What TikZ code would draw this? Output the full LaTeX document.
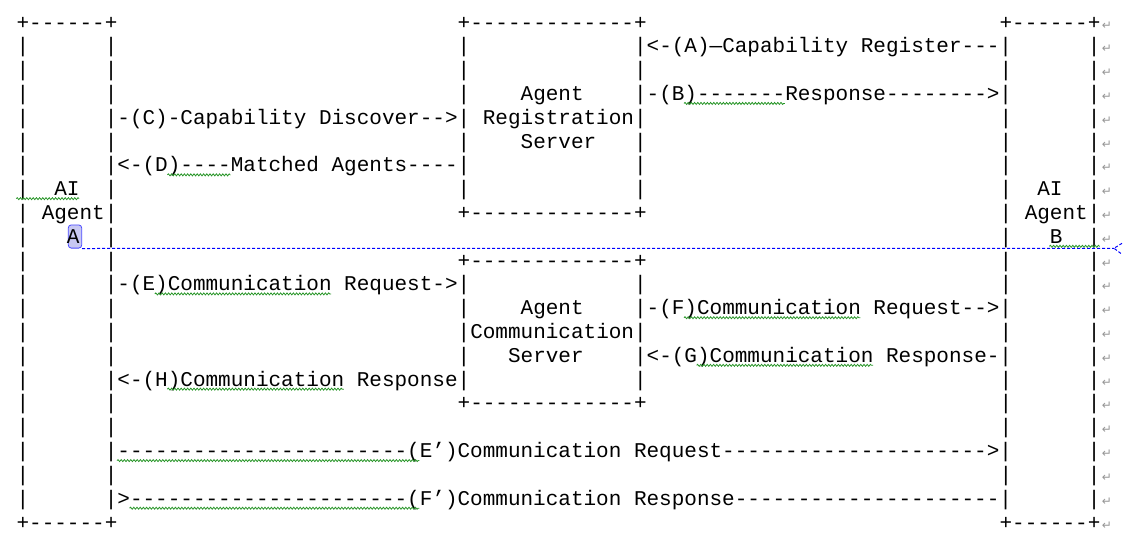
\documentclass[tikz,border=0pt]{standalone}
\usepackage{fontspec}
\setmonofont{Liberation Mono}
\newfontfamily\pmfont{DejaVu Sans}
\usetikzlibrary{decorations.pathmorphing}
\definecolor{spellgreen}{RGB}{40,150,40}
\definecolor{markgray}{RGB}{150,150,150}
\definecolor{selfill}{RGB}{200,200,242}
\ExplSyntaxOn
\cs_new_eq:NN \rep \prg_replicate:nn
\ExplSyntaxOff
\newcommand{\gap}[1]{\hspace*{#1\fontcharwd\font`x}}
\newcommand{\pmark}{\hspace*{0.8pt}{\pmfont\fontsize{6}{6}\selectfont\color{markgray}↵}}
\newcommand{\ry}[1]{29+23.81*#1}
\newcommand{\squig}[3]{\draw[squig] ({16.2+12.6*#2},{\ry{#1}+3}) -- ({16.2+12.6*(#3+1)},{\ry{#1}+3});}

\begin{document}
\begin{tikzpicture}[x=0.5pt,y=-0.5pt,
	asc/.style={anchor=base west,inner sep=0pt,font=\ttfamily\fontsize{10.5}{12}\selectfont},
	squig/.style={spellgreen,line width=0.4pt,decorate,decoration={snake,segment length=1.6pt,amplitude=0.5pt}},
	brkline/.style={blue,line width=0.5pt,dash pattern=on 1.5pt off 1pt},
	selbox/.style={fill=selfill,draw=blue!70,line width=0.4pt,rounded corners=1.5pt,inner sep=0pt,minimum width=6.7pt,minimum height=11.6pt}]
		\fill[white] (0,0) rectangle (1125,546);
		\useasboundingbox (0,0) rectangle (1125,546);

		% selection on the A and the break line under row 9
		\node[selbox] (selA) at (75,236.5) {};
		\coordinate (brk) at (1114,248.3);
		\draw[brkline] (selA.south east) -- (brk);
		\draw[brkline] ([shift={(8,-5)}]brk) -- (brk) -- ([shift={(8,6)}]brk);

		\node[asc] (row0) at (16.2,{\ry{0}}) {+\rep{6}{-}+\gap{27}+\rep{13}{-}+\gap{28}+\rep{6}{-}+\pmark};
		\node[asc] (row1) at (16.2,{\ry{1}}) {|\gap{6}|\gap{27}|\gap{13}|<-(A)—Capability Register---|\gap{6}|\pmark};
		\node[asc] (row2) at (16.2,{\ry{2}}) {|\gap{6}|\gap{27}|\gap{13}|\gap{28}|\gap{6}|\pmark};
		\node[asc] (row3) at (16.2,{\ry{3}}) {|\gap{6}|\gap{27}|\gap{4}Agent\gap{4}|-(B)\rep{7}{-}Response\rep{8}{-}>|\gap{6}|\pmark};
		\node[asc] (row4) at (16.2,{\ry{4}}) {|\gap{6}|-(C)-Capability Discover-->|\gap{1}Registration|\gap{28}|\gap{6}|\pmark};
		\node[asc] (row5) at (16.2,{\ry{5}}) {|\gap{6}|\gap{27}|\gap{4}Server\gap{3}|\gap{28}|\gap{6}|\pmark};
		\node[asc] (row6) at (16.2,{\ry{6}}) {|\gap{6}|<-(D)----Matched Agents----|\gap{13}|\gap{28}|\gap{6}|\pmark};
		\node[asc] (row7) at (16.2,{\ry{7}}) {|\gap{2}AI\gap{2}|\gap{27}|\gap{13}|\gap{28}|\gap{2}AI\gap{2}|\pmark};
		\node[asc] (row8) at (16.2,{\ry{8}}) {|\gap{1}Agent|\gap{27}+\rep{13}{-}+\gap{28}|\gap{1}Agent|\pmark};
		\node[asc] (row9) at (16.2,{\ry{9}}) {|\gap{3}A\gap{2}|\gap{70}|\gap{3}B\gap{2}|\pmark};
		\node[asc] (row10) at (16.2,{\ry{10}}) {|\gap{6}|\gap{27}+\rep{13}{-}+\gap{28}|\gap{6}|\pmark};
		\node[asc] (row11) at (16.2,{\ry{11}}) {|\gap{6}|-(E)Communication Request->|\gap{13}|\gap{28}|\gap{6}|\pmark};
		\node[asc] (row12) at (16.2,{\ry{12}}) {|\gap{6}|\gap{27}|\gap{4}Agent\gap{4}|-(F)Communication Request-->|\gap{6}|\pmark};
		\node[asc] (row13) at (16.2,{\ry{13}}) {|\gap{6}|\gap{27}|Communication|\gap{28}|\gap{6}|\pmark};
		\node[asc] (row14) at (16.2,{\ry{14}}) {|\gap{6}|\gap{27}|\gap{3}Server\gap{4}|<-(G)Communication Response-|\gap{6}|\pmark};
		\node[asc] (row15) at (16.2,{\ry{15}}) {|\gap{6}|<-(H)Communication Response|\gap{13}|\gap{28}|\gap{6}|\pmark};
		\node[asc] (row16) at (16.2,{\ry{16}}) {|\gap{6}|\gap{27}+\rep{13}{-}+\gap{28}|\gap{6}|\pmark};
		\node[asc] (row17) at (16.2,{\ry{17}}) {|\gap{6}|\gap{70}|\gap{6}|\pmark};
		\node[asc] (row18) at (16.2,{\ry{18}}) {|\gap{6}|\rep{23}{-}(E’)Communication Request\rep{21}{-}>|\gap{6}|\pmark};
		\node[asc] (row19) at (16.2,{\ry{19}}) {|\gap{6}|\gap{70}|\gap{6}|\pmark};
		\node[asc] (row20) at (16.2,{\ry{20}}) {|\gap{6}|>\rep{22}{-}(F’)Communication Response\rep{21}{-}|\gap{6}|\pmark};
		\node[asc] (row21) at (16.2,{\ry{21}}) {+\rep{6}{-}+\gap{70}+\rep{6}{-}+\pmark};

		% spelling marks
		\squig{3}{53}{60}
		\squig{6}{12}{16}
		\squig{7}{0}{4}
		\squig{9}{82}{85}
		\squig{11}{11}{24}
		\squig{12}{53}{66}
		\squig{14}{54}{67}
		\squig{15}{12}{25}
		\squig{18}{8}{31}
		\squig{20}{9}{31}
	\end{tikzpicture}
\end{document}
